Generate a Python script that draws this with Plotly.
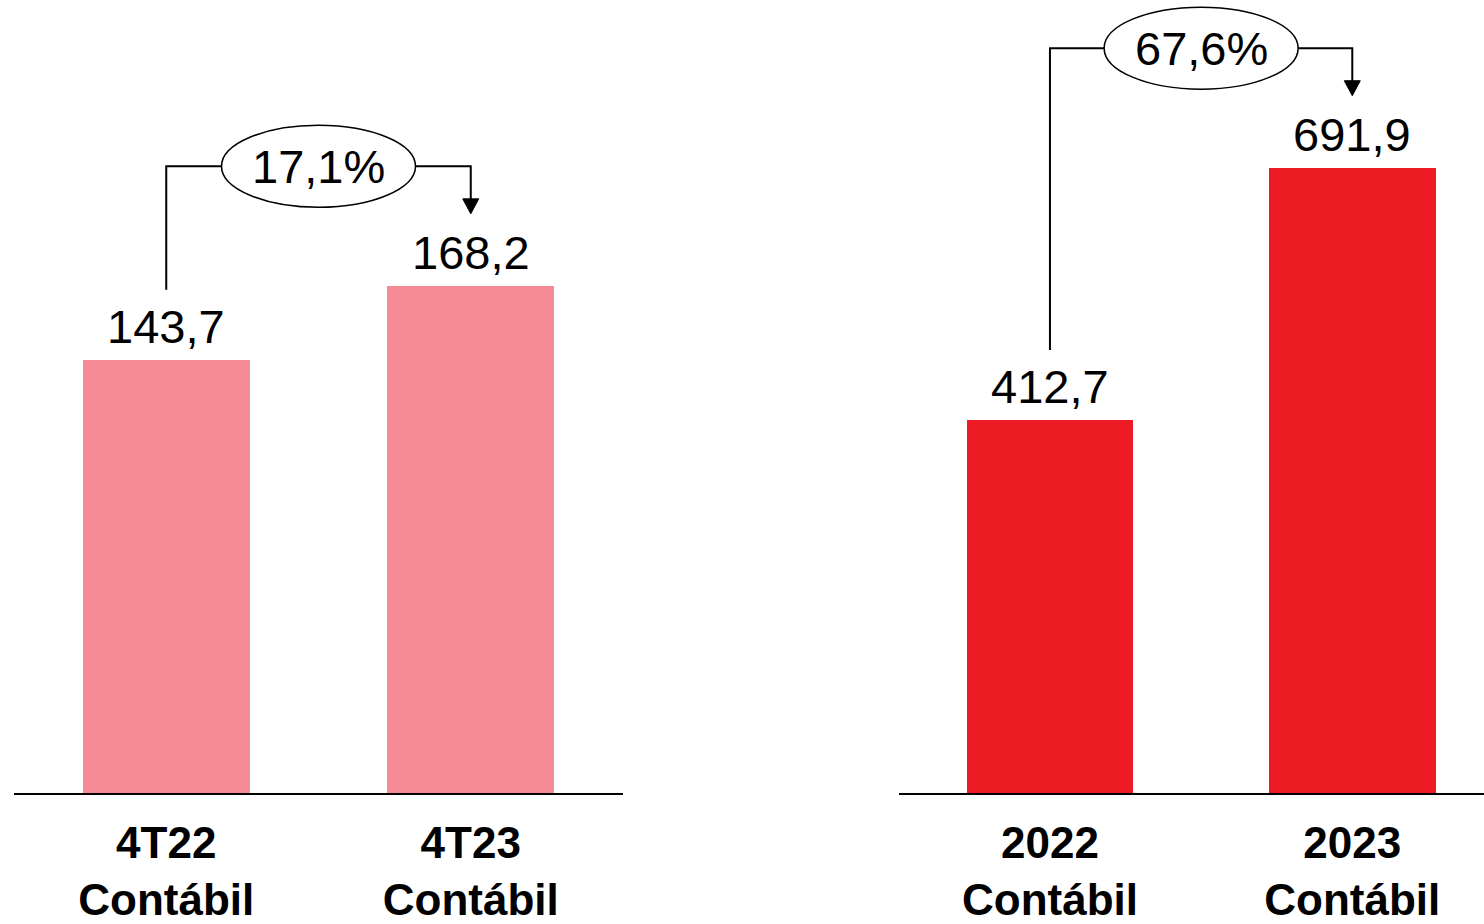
import plotly.graph_objects as go

# ---- data ----
left_categories = ["4T22<br>Contábil", "4T23<br>Contábil"]
left_values = [143.7, 168.2]
left_growth = "17,1%"

right_categories = ["2022<br>Contábil", "2023<br>Contábil"]
right_values = [412.7, 691.9]
right_growth = "67,6%"

# ---- style ----
W, H = 1484, 924
PLOT_PX = 800           # plot area height in pixels (baseline at y=800)
PINK = "#F48B94"
RED = "#ED1C24"
FONT = "Liberation Sans, Arial, sans-serif"
L_YMAX = 263.2
R_YMAX = 878.0

fig = go.Figure()


def fmt(v):
    return f"{v:.1f}".replace(".", ",")


def add_panel(vals, color, xa, ya, ymax, growth):
    xs = list(range(len(vals)))
    fig.add_trace(go.Bar(
        x=xs, y=vals, width=0.55, marker=dict(color=color, line=dict(width=0)),
        xaxis=xa, yaxis=ya, showlegend=False, hoverinfo="skip",
    ))
    for xi, v in zip(xs, vals):
        fig.add_annotation(x=xi, y=v, xref=xa, yref=ya, text=fmt(v),
                           showarrow=False, xanchor="center", yanchor="bottom",
                           yshift=5, font=dict(family=FONT, size=47, color="black"))
    k = ymax / PLOT_PX  # data units per pixel
    y_start = vals[0] + 71 * k
    y_level = max(vals) + 121 * k
    y_tip = vals[1] + 73 * k
    # bracket line
    fig.add_shape(type="path", xref=xa, yref=ya,
                  path=f"M {xs[0]},{y_start} L {xs[0]},{y_level} L {xs[1]},{y_level} L {xs[1]},{y_tip + 14 * k}",
                  line=dict(color="black", width=2))
    # arrow head
    fig.add_shape(type="path", xref=xa, yref=ya,
                  xsizemode="pixel", xanchor=xs[1], ysizemode="pixel", yanchor=y_tip,
                  path="M -8,15 L 8,15 L 0,0 Z",
                  fillcolor="black", line=dict(color="black", width=1))
    # ellipse
    xm = (xs[0] + xs[1]) / 2
    fig.add_shape(type="circle", xref=xa, yref=ya,
                  xsizemode="pixel", xanchor=xm, x0=-97, x1=97,
                  ysizemode="pixel", yanchor=y_level, y0=-41, y1=41,
                  fillcolor="white", line=dict(color="black", width=1.5))
    fig.add_annotation(x=xm, y=y_level, xref=xa, yref=ya, text=growth,
                       showarrow=False, font=dict(family=FONT, size=47, color="black"),
                       xanchor="center", yanchor="middle")


add_panel(left_values, PINK, "x", "y", L_YMAX, left_growth)
add_panel(right_values, RED, "x2", "y2", R_YMAX, right_growth)

xaxis_common = dict(showline=True, linecolor="black", linewidth=2, ticks="",
                    showgrid=False, zeroline=False, ticklabelstandoff=10,
                    tickfont=dict(family=FONT, size=44, color="black"))
fig.update_layout(
    width=W, height=H,
    margin=dict(l=0, r=0, t=0, b=H - PLOT_PX, pad=0),
    paper_bgcolor="white", plot_bgcolor="white",
    bargap=0,
    xaxis=dict(domain=[14 / W, 623 / W], range=[-0.5, 1.5],
               tickvals=[0, 1], ticktext=[f"<b>{c}</b>" for c in left_categories],
               anchor="y", **xaxis_common),
    yaxis=dict(domain=[0, 1], range=[0, L_YMAX], visible=False, anchor="x"),
    xaxis2=dict(domain=[898.8 / W, 1.0], range=[-0.5, (W - 1050) / 302.3],
                tickvals=[0, 1], ticktext=[f"<b>{c}</b>" for c in right_categories],
                anchor="y2", **xaxis_common),
    yaxis2=dict(domain=[0, 1], range=[0, R_YMAX], visible=False, anchor="x2"),
)

fig.write_html(
    "out.html",
    config={"displayModeBar": False},
    post_script="document.body.style.margin='0';document.documentElement.style.overflow='hidden';",
)
